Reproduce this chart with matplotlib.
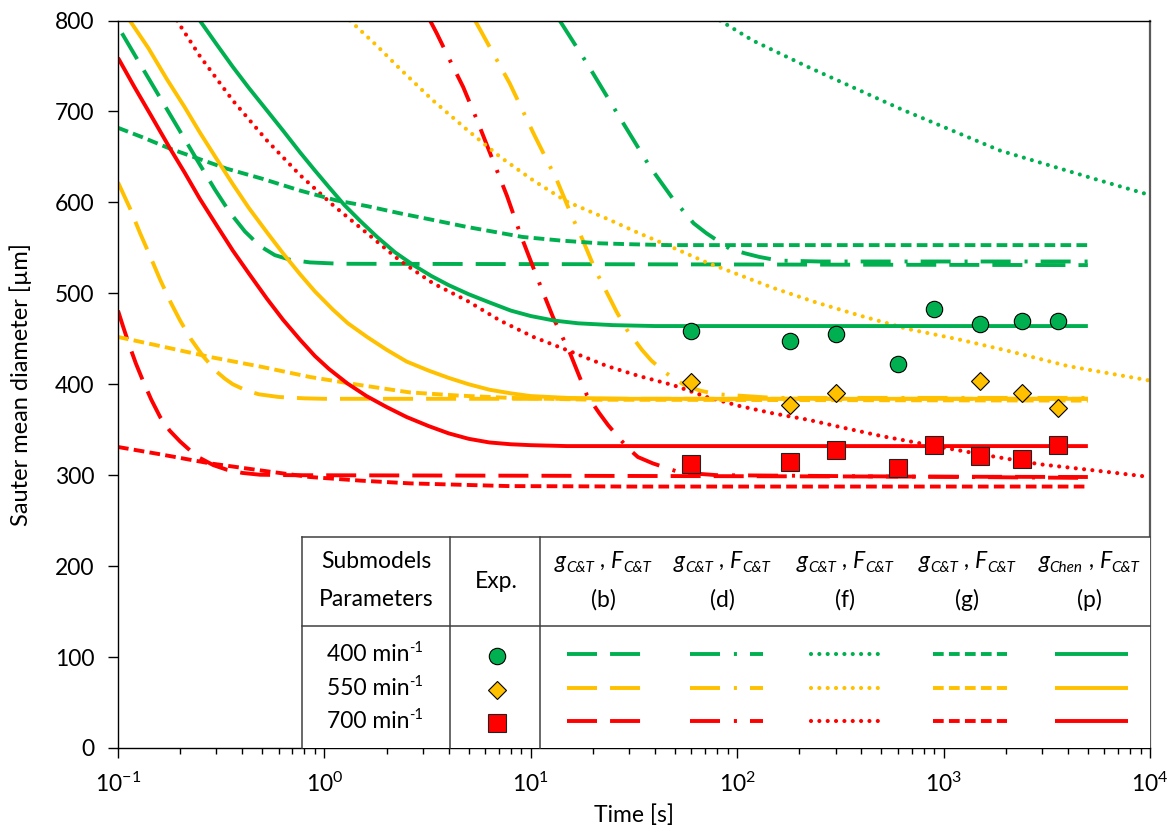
import matplotlib
matplotlib.use('Agg')
import matplotlib.pyplot as plt
from matplotlib.patches import Rectangle
from matplotlib.ticker import LogLocator, FixedLocator, NullFormatter

plt.rcParams['font.family'] = ['Lato', 'DejaVu Sans']
plt.rcParams['mathtext.fontset'] = 'custom'
plt.rcParams['mathtext.rm'] = 'Lato'
plt.rcParams['mathtext.it'] = 'Lato:italic'
plt.rcParams['mathtext.bf'] = 'Lato:bold'
plt.rcParams['axes.unicode_minus'] = False
plt.rcParams['lines.scale_dashes'] = False

# ---------------- data ----------------
# experimental points
t_exp = [60, 180, 300, 600, 900, 1500, 2400, 3600]
d_exp_400 = [459, 448, 455, 422, 483, 466, 470, 470]
t_exp_550 = [60, 180, 300, 1500, 2400, 3600]
d_exp_550 = [402, 377, 390, 404, 390, 374]
d_exp_700 = [312, 314, 328, 308, 333, 321, 318, 333]

# (b) long dash
t_b_400 = [0.1045, 0.128, 0.16, 0.2, 0.25, 0.295, 0.348, 0.412, 0.487, 0.575, 0.68, 0.85, 1.19, 5000]
d_b_400 = [786, 752, 715, 678, 641, 614, 589, 568, 552, 542, 537, 534, 532.5, 531]
t_b_550 = [0.1, 0.114, 0.128, 0.143, 0.16, 0.18, 0.2, 0.225, 0.258, 0.3, 0.33, 0.36, 0.41, 0.48, 0.6, 0.8, 1.0, 5000]
d_b_550 = [622, 594, 566, 541, 515, 490, 470, 450, 431, 414, 406, 400, 394, 389, 386, 384.5, 384, 384]
t_b_700 = [0.1, 0.106, 0.113, 0.122, 0.132, 0.145, 0.16, 0.178, 0.2, 0.224, 0.249, 0.29, 0.337, 0.4, 0.487, 0.7, 5000]
d_b_700 = [481, 463, 444, 423, 404, 383, 364, 349, 337, 327, 319, 311, 306, 302.5, 300.5, 300, 298]

# (d) dash-dot
t_d_400 = [13.8, 18.7, 26.2, 37.8, 49.5, 55.6, 61.5, 71, 92, 109, 128, 159, 250, 5000]
d_d_400 = [800, 753, 698, 639, 602, 589, 577, 566, 549, 544, 540, 536, 535, 535]
t_d_550 = [5.37, 7.9, 10.3, 13.4, 15.8, 17.9, 20.6, 24.2, 26, 29.2, 34.5, 38.4, 43.7, 50, 56, 66, 80, 150, 5000]
d_d_550 = [800, 731, 676, 624, 585, 558, 525, 494, 480, 460, 438, 426, 415, 405, 399, 393, 389, 385, 385]
t_d_700 = [3.25, 3.5, 4.06, 4.7, 5.5, 6.56, 7.67, 8.87, 10.7, 12.8, 15.5, 18.7,
           21.5, 23.7, 29.2, 33, 39, 52.8, 80, 5000]
d_d_700 = [800, 786, 756, 727, 690, 646, 607, 566, 518, 474, 434, 388,
           368, 355, 331, 320, 313, 303, 300, 297]

# (f) dotted
t_f_400 = [82.6, 119, 167, 215, 615, 1876, 5730, 10000]
d_f_400 = [800, 778, 762, 750, 703, 657, 624, 608]
t_f_550 = [1.33, 1.8, 2.32, 3.36, 4.9, 7.1, 10.3, 14.9, 23.4, 33.5, 45.8, 71, 103, 149, 241,
           400, 665, 1200, 2028, 4000, 10000]
d_f_550 = [800, 772, 747, 712, 680, 650, 624, 601, 582, 566, 553, 534, 520, 506, 490,
           475, 461, 449, 437, 420, 404]
t_f_700 = [0.193, 0.249, 0.36, 0.527, 0.762, 1.1, 1.61, 2.32, 3.36, 4.9, 7.1, 10.3,
           16, 23.4, 33.5, 49, 71, 103, 149, 220, 315, 500, 960, 1700, 2930, 5500, 10000]
d_f_700 = [800, 761, 712, 668, 630, 597, 566, 536, 511, 492, 470, 452,
           435, 420, 409, 399, 386, 376, 368, 361, 353, 343, 331, 321, 312, 305, 298]

# (g) short dash
t_g_400 = [0.1, 0.13, 0.179, 0.337, 0.5, 0.762, 1.15, 1.6, 2.32, 3.3, 4.9, 6.5, 9.1, 14, 21.5, 30, 46, 70, 5000]
d_g_400 = [682, 672, 659, 637, 626, 613, 602, 596, 588, 581, 573, 568, 562, 558, 555, 554, 553, 553, 553]
t_g_550 = [0.1, 0.16, 0.279, 0.5, 0.85, 1.5, 2.6, 4.5, 7.9, 12, 20, 5000]
d_g_550 = [452, 442, 430, 419, 408, 399, 391, 387.5, 385, 384, 383, 382]
t_g_700 = [0.1, 0.16, 0.279, 0.5, 0.85, 1.5, 2.6, 4.5, 7.9, 15, 30, 5000]
d_g_700 = [331, 323, 313, 305, 298, 294, 291, 289.5, 288, 287.8, 287.5, 287.5]

# (p) solid
t_p_400 = [0.249, 0.3, 0.36, 0.43, 0.527, 0.63, 0.762, 0.9, 1.05, 1.25, 1.5, 1.8, 2.2, 2.7, 3.3,
           4.0, 5.0, 6.3, 8.0, 10, 13, 17, 25, 40, 5000]
d_p_400 = [800, 774, 749, 726, 701, 679, 655, 635, 617, 597, 579, 562, 545, 531, 519,
           509, 499, 490, 481, 475, 470, 467, 465, 464, 464]
t_p_550 = [0.114, 0.14, 0.173, 0.21, 0.249, 0.3, 0.36, 0.43, 0.527, 0.63, 0.762, 0.9, 1.1, 1.3,
           1.61, 2.0, 2.5, 3.2, 4.0, 5.0, 6.3, 8.0, 10, 15, 30, 5000]
d_p_550 = [800, 770, 735, 705, 677, 648, 620, 594, 567, 544, 521, 502, 482, 467,
           452, 438, 425, 415, 407, 400, 394, 390, 387, 385, 384, 384]
t_p_700 = [0.1, 0.12, 0.145, 0.179, 0.21, 0.249, 0.3, 0.36, 0.43, 0.527, 0.63, 0.762, 0.9, 1.05,
           1.29, 1.6, 2.0, 2.5, 3.2, 4.0, 5.0, 6.3, 8.0, 10, 15, 5000]
d_p_700 = [759, 727, 695, 659, 633, 604, 575, 547, 522, 494, 471, 449, 431, 417,
           401, 387, 375, 364, 354, 346, 340, 336, 334, 333, 332, 332]

speeds = ['400', '550', '700']
model_keys = ['b', 'd', 'f', 'g', 'p']
model_g = ['C&T', 'C&T', 'C&T', 'C&T', 'Chen']
model_tags = ['(b)', '(d)', '(f)', '(g)', '(p)']

curves = {
    ('b', '400'): (t_b_400, d_b_400), ('b', '550'): (t_b_550, d_b_550), ('b', '700'): (t_b_700, d_b_700),
    ('d', '400'): (t_d_400, d_d_400), ('d', '550'): (t_d_550, d_d_550), ('d', '700'): (t_d_700, d_d_700),
    ('f', '400'): (t_f_400, d_f_400), ('f', '550'): (t_f_550, d_f_550), ('f', '700'): (t_f_700, d_f_700),
    ('g', '400'): (t_g_400, d_g_400), ('g', '550'): (t_g_550, d_g_550), ('g', '700'): (t_g_700, d_g_700),
    ('p', '400'): (t_p_400, d_p_400), ('p', '550'): (t_p_550, d_p_550), ('p', '700'): (t_p_700, d_p_700),
}

# ---------------- styles ----------------
colors = {'400': '#00B050', '550': '#FFC000', '700': '#FF0000'}
LW = 2.8
styles = {
    'b': dict(lw=LW, dashes=(21.6, 9.4), dash_capstyle='butt'),
    'd': dict(lw=LW, dashes=(21.6, 10, 2.2, 9.4), dash_capstyle='butt'),
    'f': dict(lw=3.0, dashes=(0.01, 6.0), dash_capstyle='round'),
    'g': dict(lw=LW, dashes=(7.7, 3.8), dash_capstyle='butt'),
    'p': dict(lw=LW, linestyle='-', solid_capstyle='butt'),
}
markers = {
    '400': dict(marker='o', ms=11.8),
    '550': dict(marker='D', ms=9),
    '700': dict(marker='s', ms=12.5),
}

W, H = 1174, 834
fig = plt.figure(figsize=(W / 100, H / 100), dpi=100)
L, R, T, B = 118, 1150, 20.5, 748
ax = fig.add_axes([L / W, 1 - B / H, (R - L) / W, (B - T) / H])

for (k, s), (tt, dd) in curves.items():
    ax.plot(tt, dd, color=colors[s], zorder=2, **styles[k])

ax.plot(t_exp, d_exp_400, linestyle='none', color=colors['400'], mec='black', mew=0.8, zorder=4, **markers['400'])
ax.plot(t_exp_550, d_exp_550, linestyle='none', color=colors['550'], mec='black', mew=0.8, zorder=4, **markers['550'])
ax.plot(t_exp, d_exp_700, linestyle='none', color=colors['700'], mec='#222222', mew=0.8, zorder=4, **markers['700'])

ax.set_xscale('log')
ax.set_xlim(0.1, 1e4)
ax.set_ylim(0, 800)
ax.yaxis.set_major_locator(FixedLocator(range(0, 801, 100)))
ax.xaxis.set_major_locator(LogLocator(base=10, numticks=10))
ax.xaxis.set_minor_locator(LogLocator(base=10, subs=range(2, 10), numticks=20))
ax.xaxis.set_minor_formatter(NullFormatter())
ax.tick_params(axis='both', which='major', labelsize=16.5, direction='out', length=7, width=1, color='black')
ax.tick_params(axis='x', which='minor', direction='out', length=4.5, width=1)
ax.tick_params(axis='x', which='major', pad=10)
ax.tick_params(axis='y', which='major', pad=10)
ax.set_xlabel('Time [s]', fontsize=16.5, labelpad=6)
ax.set_ylabel('Sauter mean diameter [µm]', fontsize=17)
ax.yaxis.set_label_coords(-0.083, 0.5)
for sp in ['left', 'bottom', 'top']:
    ax.spines[sp].set_color('black')
    ax.spines[sp].set_linewidth(1.0)
ax.spines['right'].set_color('#595959')
ax.spines['right'].set_linewidth(1.6)

# ---------------- legend table (pixel coordinates) ----------------
ov = fig.add_axes([0, 0, 1, 1], zorder=5)
ov.set_xlim(0, W)
ov.set_ylim(H, 0)
ov.axis('off')
ov.patch.set_alpha(0)

tx0, tx1, ty0, ty1 = 302, 1150, 537, 748
ov.add_patch(Rectangle((tx0, ty0), tx1 - tx0, ty1 - ty0, facecolor='white', edgecolor='none', zorder=1))
lc = '#404040'
ov.plot([tx0, tx1], [ty0, ty0], color=lc, lw=1.1, zorder=3)
ov.plot([tx0, tx1], [626, 626], color=lc, lw=1.1, zorder=3)
ov.plot([tx0, tx0], [ty0, ty1], color=lc, lw=1.1, zorder=3)
ov.plot([450, 450], [ty0, ty1], color=lc, lw=1.1, zorder=3)
ov.plot([540, 540], [ty0, ty1], color=lc, lw=1.1, zorder=3)

fs = 16.5
ov.text(376, 561, 'Submodels', ha='center', va='center', fontsize=fs, zorder=4)
ov.text(376, 599, 'Parameters', ha='center', va='center', fontsize=fs, zorder=4)
ov.text(496, 582, 'Exp.', ha='center', va='center', fontsize=fs, zorder=4)

renderer = fig.canvas.get_renderer()


def rich_text(cx, base_y, pieces):
    objs = []
    total = 0.0
    for txt, size, style, dy in pieces:
        t = ov.text(0, base_y + dy, txt, fontsize=size, fontstyle=style,
                    ha='left', va='baseline', zorder=4)
        w = t.get_window_extent(renderer=renderer).width
        objs.append((t, w))
        total += w
    x = cx - total / 2
    for t, w in objs:
        t.set_x(x)
        x += w


col_x = [603, 722, 845, 967, 1089]
for cx, gsub, tag in zip(col_x, model_g, model_tags):
    rich_text(cx, 568, [('g', 16.5, 'italic', 0), (gsub, 11, 'italic', 4),
                        (' , ', 16.5, 'normal', 0), ('F', 16.5, 'italic', 0),
                        ('C&T', 11, 'italic', 4)])
    ov.text(cx, 600, tag, ha='center', va='center', fontsize=fs, zorder=4)

row_y = [654, 688, 721]
for ry, s in zip(row_y, speeds):
    rich_text(375, ry + 7, [(s + ' min', fs, 'normal', 0), ('-1', 10.5, 'normal', -9)])
    mec = 'black' if s != '700' else '#222222'
    ov.plot([497], [ry + 2], linestyle='none', color=colors[s], mec=mec, mew=0.8, zorder=4, **markers[s])

seg = {'b': (567, 641), 'd': (690, 763), 'f': (811, 884), 'g': (933, 1007), 'p': (1055, 1128)}
for k in model_keys:
    x0, x1 = seg[k]
    for ry, s in zip(row_y, speeds):
        ov.plot([x0, x1], [ry, ry], color=colors[s], zorder=4, **styles[k])

fig.savefig('out.png', dpi=100)
